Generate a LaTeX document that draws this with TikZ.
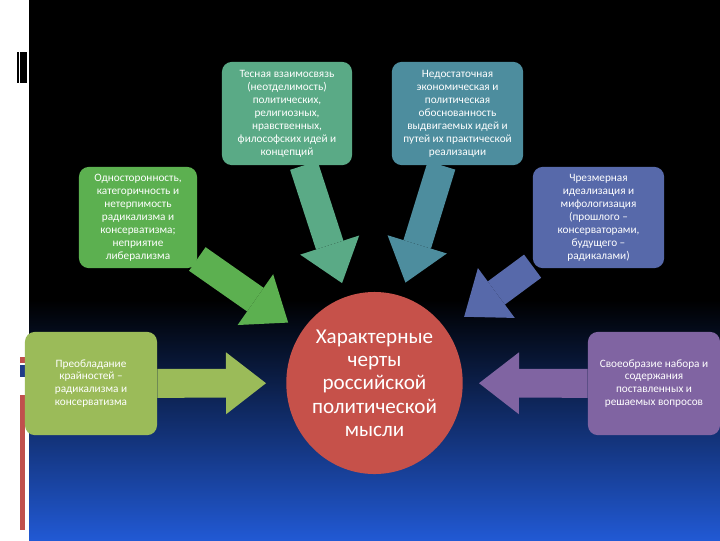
\documentclass[tikz,border=0pt]{standalone}
\usepackage{fontspec}
\setmainfont{Carlito}
\usepackage{tikz}
\usetikzlibrary{shapes.geometric,arrows.meta}

\definecolor{tealgreen}{HTML}{5AAA86}
\definecolor{tealblue}{HTML}{4D8D9E}
\definecolor{leafgreen}{HTML}{5CB050}
\definecolor{slateblue}{HTML}{5769AA}
\definecolor{olivegreen}{HTML}{9BBB59}
\definecolor{lilac}{HTML}{8064A2}
\definecolor{brick}{HTML}{C6514A}
\definecolor{navymid}{HTML}{0E2458}
\definecolor{navybot}{HTML}{2159D4}
\definecolor{barred}{HTML}{C0504D}
\definecolor{barblue}{HTML}{1F3C88}

\begin{document}
\begin{tikzpicture}[x=0.025cm,y=-0.025cm]
\tikzstyle{box}=[rectangle, rounded corners=7pt, text=white, align=center, inner sep=1pt, font=\fontsize{8}{9.2}\selectfont]
\tikzstyle{hubnode}=[ellipse, fill=brick, text=white, align=center, inner sep=0pt, minimum width=3.875cm, minimum height=4.55cm, font=\fontsize{15}{16.6}\selectfont]
\tikzstyle{connect}=[line width=0.72cm, -{Triangle[length=1cm,width=1.55cm,line width=0pt]}]
\useasboundingbox (0,0) rectangle (720,540);
% background
\fill[white] (0,0) rectangle (29,540);
\fill[black] (29,0) rectangle (720,300);
\shade[top color=black, middle color=navymid, bottom color=navybot] (29,300) rectangle (720,540);
\fill[black] (17,52) rectangle (27,83);
\draw[white, line width=0.4pt] (19,52) -- (19,83);
\fill[barred] (20,357) rectangle (25,363);
\fill[barblue] (20,365) rectangle (25,377);
\fill[barred] (20,395) rectangle (25,530);
	\node[hubnode] (hub) at (374.5,383) {Характерные\\черты\\российской\\политической\\мысли};
	\node[box, fill=tealgreen, minimum width=3.25cm, minimum height=2.58cm] (t_1) at (287,113.5) {Тесная взаимосвязь\\(неотделимость)\\политических,\\религиозных,\\нравственных,\\философских идей и\\концепций};
	\node[box, fill=tealblue, minimum width=3.28cm, minimum height=2.58cm] (t_2) at (457.5,113.5) {Недостаточная\\экономическая и\\политическая\\обоснованность\\выдвигаемых идей и\\путей их практической\\реализации};
	\node[box, fill=leafgreen, minimum width=2.95cm, minimum height=2.53cm] (t_3) at (138,217.5) {Односторонность,\\категоричность и\\нетерпимость\\радикализма и\\консерватизма;\\неприятие\\либерализма};
	\node[box, fill=slateblue, minimum width=3.28cm, minimum height=2.53cm] (t_4) at (598.5,217.5) {Чрезмерная\\идеализация и\\мифологизация\\(прошлого –\\консерваторами,\\будущего –\\радикалами)};
	\node[box, fill=olivegreen, minimum width=3.3cm, minimum height=2.58cm] (t_5) at (91,383.5) {Преобладание\\крайностей –\\радикализма и\\консерватизма};
	\node[box, fill=lilac, minimum width=3.3cm, minimum height=2.58cm] (t_6) at (654,383.5) {Своеобразие набора и\\содержания\\поставленных и\\решаемых вопросов};

	\path
		(t_1) edge [connect, color=tealgreen, shorten >=0.35cm] (hub)
		(t_2) edge [connect, color=tealblue, shorten >=0.35cm] (hub)
		(t_3) edge [connect, color=leafgreen, shorten >=0.4cm] (hub)
		(t_4) edge [connect, color=slateblue, shorten >=0.55cm] (hub)
		(t_5) edge [connect, color=olivegreen, shorten >=0.5cm] (hub)
		(t_6) edge [connect, color=lilac, shorten >=0.4cm] (hub);
\end{tikzpicture}
\end{document}
